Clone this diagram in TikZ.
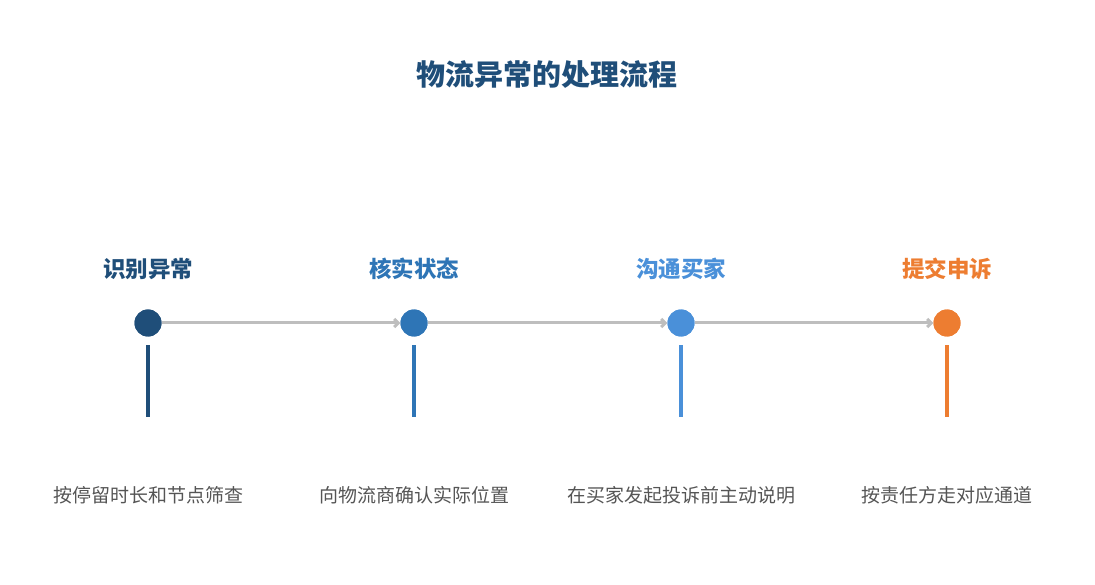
\documentclass[tikz,border=0pt]{standalone}
\usepackage{fontspec}
\setmainfont{Noto Sans CJK SC}
\usetikzlibrary{arrows.meta}
\definecolor{c1}{HTML}{1F4E79}
\definecolor{c2}{HTML}{2E75B6}
\definecolor{c3}{HTML}{4A90D9}
\definecolor{c4}{HTML}{ED7D31}
\definecolor{ln}{HTML}{BEBEBE}
\definecolor{tx}{HTML}{555555}
\begin{document}
\begin{tikzpicture}[x=1pt,y=-1pt,
  dot/.style={circle,fill=#1,minimum size=27pt,inner sep=0pt},
  head/.style={font=\fontsize{22.5}{26}\selectfont\bfseries,text=#1},
  desc/.style={font=\fontsize{19}{22}\selectfont,text=tx},
  conn/.style={draw=ln,line width=3pt,-{Straight Barb[length=4pt,width=8pt]}}]
\useasboundingbox (0,0) rectangle (1095,585);
\node[font=\fontsize{29}{33}\selectfont\bfseries,text=c1] (title) at (547,75) {物流异常的处理流程};
\foreach \i/\x/\c/\h/\d in {1/148/c1/识别异常/按停留时长和节点筛查,2/414/c2/核实状态/向物流商确认实际位置,3/681/c3/沟通买家/在买家发起投诉前主动说明,4/947/c4/提交申诉/按责任方走对应通道}{
  \node[head=\c] (h\i) at (\x,269) {\h};
  \node[desc] (d\i) at (\x,495) {\d};
  \coordinate (t\i) at (\x,345);
  \coordinate (b\i) at (\x,417);
  \draw[\c,line width=4pt] (t\i) -- (b\i);
}
\foreach \i/\x/\c in {1/148/c1,2/414/c2,3/681/c3,4/947/c4}{\node[dot=\c] (n\i) at (\x,323) {};}
\draw[conn] (n1.east) -- (n2.west);
\draw[conn] (n2.east) -- (n3.west);
\draw[conn] (n3.east) -- (n4.west);
\foreach \i/\c in {1/c1,2/c2,3/c3,4/c4}{\node[dot=\c] at (n\i) {};}
\end{tikzpicture}
\end{document}
